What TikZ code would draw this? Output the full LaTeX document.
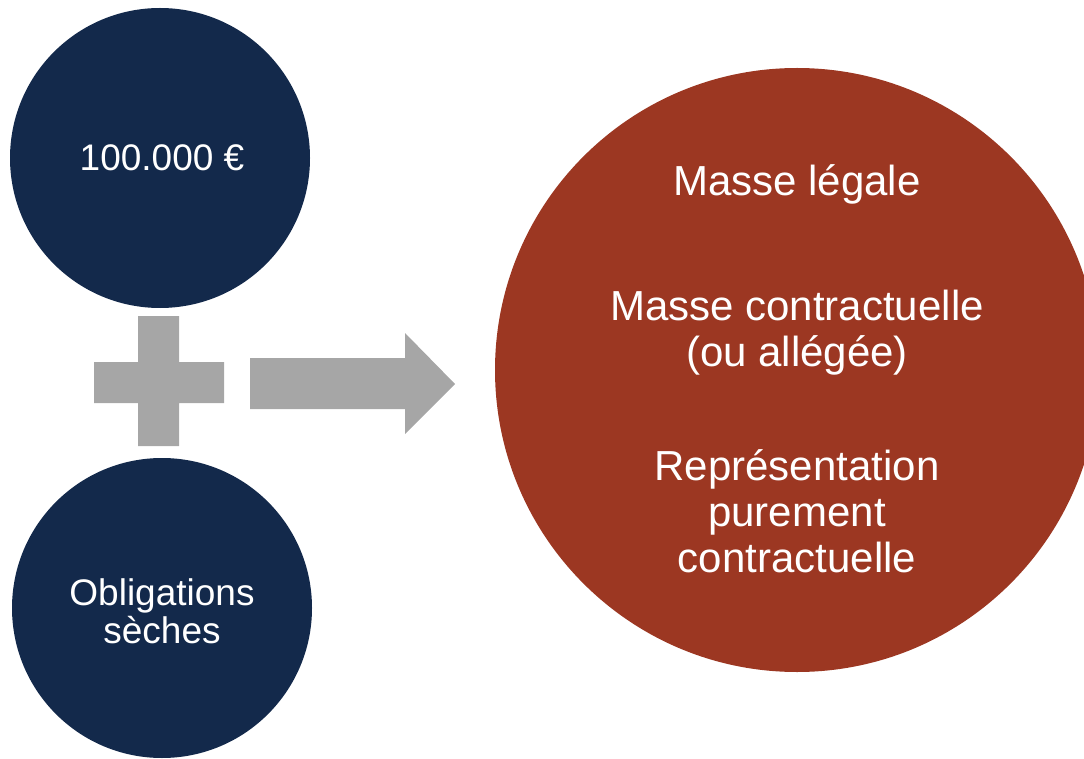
\documentclass[tikz,border=0pt]{standalone}
\usepackage{fontspec}
\setmainfont{Liberation Sans}
\definecolor{navy}{HTML}{13294B}
\definecolor{rust}{HTML}{9C3722}
\definecolor{greyshape}{HTML}{A6A6A6}
\begin{document}
\begin{tikzpicture}[x=1pt,y=-1pt,
  disc/.style={circle,inner sep=0pt,minimum size=300pt},
  lefttxt/.style={text=white,align=center,font=\fontsize{37}{38}\selectfont},
  righttxt/.style={text=white,align=center,anchor=base,font=\fontsize{42}{46}\selectfont}]
\useasboundingbox (0,0) rectangle (1084,759);
\clip (0,0) rectangle (1084,759);
% circles
\node[disc,fill=navy] (top) at (160,158) {};
\node[disc,fill=navy] (bot) at (162,608) {};
\node[circle,inner sep=0pt,minimum size=604pt,fill=rust] (big) at (797,370) {};
% plus sign
\fill[greyshape] (138,316) -- (179,316) -- (179,362) -- (224,362) -- (224,403)
  -- (179,403) -- (179,446) -- (138,446) -- (138,403) -- (94,403) -- (94,362)
  -- (138,362) -- cycle;
% arrow
\fill[greyshape] (250,358) -- (405,358) -- (405,333) -- (455,384) -- (405,434)
  -- (405,409) -- (250,409) -- cycle;
% texts
\node[lefttxt] (t1) at (162,158) {100.000 €};
\node[lefttxt] (t2) at (162,611) {Obligations\\sèches};
\node[righttxt] (r1) at (797,196) {Masse légale};
\node[righttxt] (r2) at (797,366) {Masse contractuelle\\(ou allégée)};
\node[righttxt] (r3) at (797,572) {Représentation\\purement\\contractuelle};
\end{tikzpicture}
\end{document}
